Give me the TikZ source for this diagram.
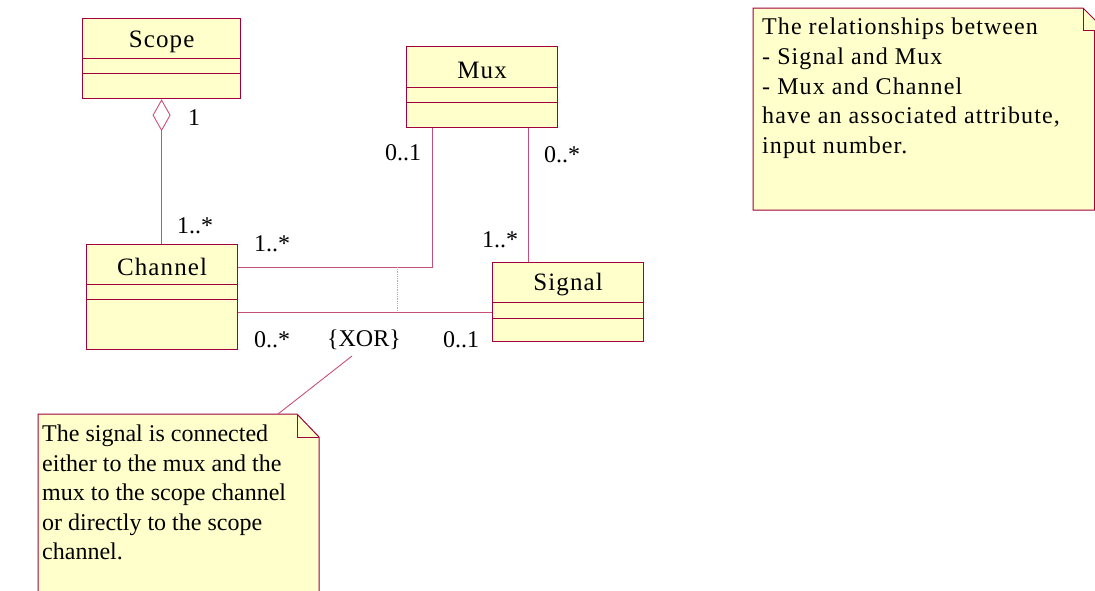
\documentclass[tikz,border=0pt]{standalone}
\usepackage{fontspec}
\setmainfont{Liberation Serif}
\newfontfamily\spaced[LetterSpace=4.5]{Liberation Serif}
\usetikzlibrary{arrows.meta}
\definecolor{umlline}{RGB}{160,0,60}
\definecolor{umlconn}{RGB}{200,80,120}
\definecolor{umlfill}{RGB}{255,255,204}
\tikzset{
  cls/.style={draw=umlline, fill=umlfill, line width=1.2pt, rectangle, inner sep=0pt},
  cmp/.style={draw=umlline, line width=0.8pt},
  conn/.style={draw=umlconn, line width=0.9pt},
  xorline/.style={draw=umlconn!60, line width=0.8pt, densely dotted},
  lbl/.style={font=\fontsize{24}{28}\selectfont, inner sep=0pt},
  cname/.style={font=\spaced\fontsize{25}{28}\selectfont, inner sep=0pt},
  notebox/.style={draw=umlline, fill=umlfill, line width=1pt},
  notetext/.style={font=\spaced\fontsize{24}{29.7}\selectfont, align=left, inner sep=0pt, anchor=north west},
  notetextb/.style={font=\fontsize{24}{29.5}\selectfont, align=left, inner sep=0pt, anchor=north west}
}
\begin{document}
\begin{tikzpicture}[x=1pt,y=-1pt]
\useasboundingbox (0,0) rectangle (1095,590);
\clip (0,0) rectangle (1095,590);

% classes
\node[cls, minimum width=158pt, minimum height=80pt, anchor=north west] (scope) at (82,18) {};
\draw[cmp] ([yshift=-40pt]scope.north west) -- ([yshift=-40pt]scope.north east);
\draw[cmp] ([yshift=-55pt]scope.north west) -- ([yshift=-55pt]scope.north east);
\node[cname] (scopet) at ([yshift=-24pt]scope.north) {Scope};

\node[cls, minimum width=151pt, minimum height=105pt, anchor=north west] (channel) at (86,244) {};
\draw[cmp] ([yshift=-40pt]channel.north west) -- ([yshift=-40pt]channel.north east);
\draw[cmp] ([yshift=-55pt]channel.north west) -- ([yshift=-55pt]channel.north east);
\node[cname] (channelt) at ([yshift=-23pt]channel.north) {Channel};

\node[cls, minimum width=151pt, minimum height=81pt, anchor=north west] (mux) at (406,46) {};
\draw[cmp] ([yshift=-41pt]mux.north west) -- ([yshift=-41pt]mux.north east);
\draw[cmp] ([yshift=-56pt]mux.north west) -- ([yshift=-56pt]mux.north east);
\node[cname] (muxt) at ([yshift=-24pt]mux.north) {Mux};

\node[cls, minimum width=151pt, minimum height=79pt, anchor=north west] (signal) at (492,262) {};
\draw[cmp] ([yshift=-40pt]signal.north west) -- ([yshift=-40pt]signal.north east);
\draw[cmp] ([yshift=-56pt]signal.north west) -- ([yshift=-56pt]signal.north east);
\node[cname] (signalt) at ([yshift=-23pt]signal.north) {Signal};

% connectors
\draw[conn, {Diamond[open, length=32pt, width=18pt, line width=0.9pt]}-] (scope.south) -- (scope.south |- channel.north);
\draw[conn] ([xshift=26pt]mux.south west) |- ([yshift=-23pt]channel.north east) coordinate (uj);
\draw[conn] ([yshift=-68pt]channel.north east) -- ([yshift=-50pt]signal.north west);
\draw[conn] ([xshift=-30pt]mux.south east) -- ([xshift=-30pt]mux.south east |- signal.north);
\coordinate (xtop) at (397,267);
\coordinate (xbot) at (397,312);
\draw[xorline] (xtop) -- (xbot);

% labels
\node[lbl] (l1) at (194,118) {1};
\node[lbl] (l2) at (195,226) {1..*};
\node[lbl] (l3) at (272,244) {1..*};
\node[lbl] (l4) at (272,340) {0..*};
\node[lbl] (xor) at (364,340) {\{XOR\}};
\node[lbl] (l5) at (461,340) {0..1};
\node[lbl] (l6) at (403,153) {0..1};
\node[lbl] (l7) at (562,155) {0..*};
\node[lbl] (l8) at (500,240) {1..*};

% bottom note
\draw[notebox] (38,414) -- (297,414) -- (319,437) -- (319,600) -- (38,600) -- cycle;
\draw[cmp, line width=0.9pt] (297,414) -- (297,437) -- (319,437);
\coordinate (n1a) at (278,414);
\draw[conn] (352,356) -- (n1a);
\node[notetextb] (n1t) at (42,425) {The signal is connected\\either to the mux and the\\mux to the scope channel\\or directly to the scope\\channel.};

% top right note
\draw[notebox] (753,8) -- (1083,8) -- (1105,30) -- (1105,210) -- (753,210) -- cycle;
\draw[cmp, line width=0.9pt] (1083,8) -- (1083,30) -- (1105,30);
\draw[umlline, line width=1pt] (1094,30) -- (1094,210);
\node[notetext] (n2t) at (762,18) {The relationships between\\- Signal and Mux\\- Mux and Channel\\have an associated attribute,\\input number.};
\end{tikzpicture}
\end{document}
